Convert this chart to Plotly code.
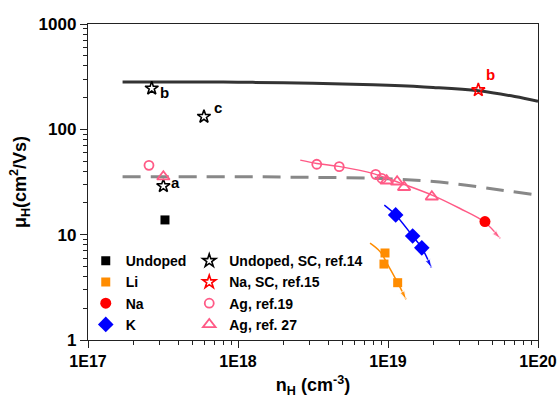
import numpy as np
import plotly.graph_objects as go

# ---------------- data ----------------
# model curves
solid_x = [1.7e17, 5e17, 1e18, 2e18, 5e18, 1e19, 2e19, 4e19, 7e19, 1e20]
solid_y = [282, 282, 280, 277, 270, 262, 250, 232, 205, 185]
dash_x = [1.7e17, 1e18, 3e18, 1e19, 2.6e19, 5.6e19, 1e20]
dash_y = [35.5, 35.5, 35, 34, 30.8, 26.5, 23.8]

# guide curves (with arrows)
ag_fit_x = [2.6e18, 3.35e18, 4.7e18, 8e18, 1.2e19, 2e19, 3e19, 4.4e19, 5.6e19]
ag_fit_y = [51, 47.5, 44.5, 38, 31, 23.5, 17.8, 13.2, 9.2]
k_fit_x = [9.45e18, 1.125e19, 1.46e19, 1.68e19, 1.95e19]
k_fit_y = [19.1, 15.4, 9.7, 7.5, 4.85]
li_fit_x = [7.59e18, 8.85e18, 1.0e19, 1.16e19, 1.32e19]
li_fit_y = [8.3, 6.9, 5.15, 3.5, 2.43]

# measured points
undoped_x = [3.26e17]
undoped_y = [13.8]
li_x = [9.55e18, 9.4e18, 1.16e19]
li_y = [6.7, 5.26, 3.5]
na_x = [4.43e19]
na_y = [13.3]
k_x = [1.125e19, 1.46e19, 1.68e19]
k_y = [15.4, 9.7, 7.5]

# literature
sc14_x = [2.66e17, 5.93e17, 3.18e17]
sc14_y = [245, 132, 29]
sc14_lab = ["b", "c", "a"]
sc15_x = [4.0e19]
sc15_y = [236]
sc15_lab = ["b"]
ag19_x = [2.55e17, 3.35e18, 4.73e18, 8.28e18, 9.08e18]
ag19_y = [45.5, 46.6, 44.2, 37.4, 34.3]
ag27_x = [3.18e17, 9.8e18, 1.15e19, 1.28e19, 1.96e19]
ag27_y = [35.5, 32.5, 31.8, 28.2, 22.9]

x_ticks = [1e17, 1e18, 1e19, 1e20]
x_tick_text = ["1E17", "1E18", "1E19", "1E20"]
y_ticks = [1, 10, 100, 1000]
y_tick_text = ["1", "10", "100", "1000"]
minor_digits = [2, 3, 4, 5, 6, 7, 8, 9]
x_minor = [d * 10.0 ** e for e in (17, 18, 19) for d in minor_digits]
y_minor = [d * 10.0 ** e for e in (0, 1, 2) for d in minor_digits]

# ---------------- styles ----------------
FONT = "Arial, Liberation Sans, sans-serif"
PINK = "#ff5a86"
ORANGE = "#ff8c00"
BLUE = "#0000ff"
RED = "#ff0000"

fig = go.Figure()

fig.add_trace(go.Scatter(x=solid_x, y=solid_y, mode="lines", line=dict(color="#333333", width=3, shape="spline"),
                         showlegend=False, hoverinfo="skip"))
fig.add_trace(go.Scatter(x=dash_x, y=dash_y, mode="lines",
                         line=dict(color="#888888", width=3, dash="18px,10px", shape="spline"),
                         showlegend=False, hoverinfo="skip"))


def arrow_line(xs, ys, color):
    sizes = [0] * (len(xs) - 1) + [9]
    fig.add_trace(go.Scatter(x=xs, y=ys, mode="lines+markers",
                             line=dict(color=color, width=1.5, shape="spline"),
                             marker=dict(symbol="arrow", size=sizes, color=color, angleref="previous"),
                             showlegend=False, hoverinfo="skip"))


arrow_line(ag_fit_x, ag_fit_y, PINK)
arrow_line(k_fit_x, k_fit_y, BLUE)
arrow_line(li_fit_x, li_fit_y, ORANGE)

# legend 1 (measured)
fig.add_trace(go.Scatter(x=undoped_x, y=undoped_y, mode="markers", name="Undoped", legend="legend",
                         marker=dict(symbol="square", size=9, color="black")))
fig.add_trace(go.Scatter(x=li_x, y=li_y, mode="markers", name="Li", legend="legend",
                         marker=dict(symbol="square", size=9, color=ORANGE)))
fig.add_trace(go.Scatter(x=na_x, y=na_y, mode="markers", name="Na", legend="legend",
                         marker=dict(symbol="circle", size=11, color=RED)))
fig.add_trace(go.Scatter(x=k_x, y=k_y, mode="markers", name="K", legend="legend",
                         marker=dict(symbol="diamond", size=12, color=BLUE)))

# legend 2 (literature)
fig.add_trace(go.Scatter(x=sc14_x, y=sc14_y, mode="markers", name="Undoped, SC, ref.14", legend="legend2",
                         marker=dict(symbol="star-open", size=10, color="black", line=dict(width=1.6))))
fig.add_trace(go.Scatter(x=sc15_x, y=sc15_y, mode="markers", name="Na, SC, ref.15", legend="legend2",
                         marker=dict(symbol="star-open", size=10, color=RED, line=dict(width=1.6))))
fig.add_trace(go.Scatter(x=ag19_x, y=ag19_y, mode="markers", name="Ag, ref.19", legend="legend2",
                         marker=dict(symbol="circle-open", size=9, color=PINK, line=dict(width=1.8))))
fig.add_trace(go.Scatter(x=ag27_x, y=ag27_y, mode="markers", name="Ag, ref. 27", legend="legend2",
                         marker=dict(symbol="triangle-up-open", size=11, color=PINK, line=dict(width=1.8))))

# point labels
shifts = [(13, -4), (14, 9), (12, 3)]
for xv, yv, lab, (dx, dy) in zip(sc14_x, sc14_y, sc14_lab, shifts):
    fig.add_annotation(x=np.log10(xv), y=np.log10(yv), text=lab, showarrow=False, xshift=dx, yshift=dy,
                       font=dict(family=FONT, size=15, color="black", weight="bold"))
for xv, yv, lab in zip(sc15_x, sc15_y, sc15_lab):
    fig.add_annotation(x=np.log10(xv), y=np.log10(yv), text=lab, showarrow=False, xshift=12, yshift=16,
                       font=dict(family=FONT, size=15, color=RED, weight="bold"))

axis_common = dict(type="log", showgrid=False, zeroline=False, showline=True, linecolor="#222222",
                   linewidth=1.3, mirror=True, ticks="outside", ticklen=7, tickwidth=1.3, tickcolor="#222222",
                   automargin=False)

fig.update_xaxes(**axis_common, range=[17, 20], tickmode="array", tickvals=x_ticks, ticktext=x_tick_text,
                 tickfont=dict(family=FONT, size=16, color="black", weight="bold"),
                 minor=dict(tickmode="array", tickvals=x_minor, ticks="outside", ticklen=4, tickwidth=1,
                            tickcolor="#222222", showgrid=False),
                 title=dict(text="n<sub>H</sub> (cm<sup>-3</sup>)", standoff=9,
                            font=dict(family=FONT, size=18, color="black", weight="bold")))
fig.update_yaxes(**axis_common, range=[0, 3], tickmode="array", tickvals=y_ticks, ticktext=y_tick_text,
                 tickfont=dict(family=FONT, size=17, color="black", weight="bold"),
                 minor=dict(tickmode="array", tickvals=y_minor, ticks="outside", ticklen=4, tickwidth=1,
                            tickcolor="#222222", showgrid=False),
                 title=dict(text="μ<sub>H</sub>(cm<sup>2</sup>/Vs)", standoff=7,
                            font=dict(family=FONT, size=18, color="black", weight="bold")))

legend_font = dict(family=FONT, size=14, color="black", weight="bold")
fig.update_layout(
    width=560, height=401,
    margin=dict(l=88, r=22, t=24, b=61, autoexpand=False),
    paper_bgcolor="white", plot_bgcolor="white",
    legend=dict(x=-0.005, y=0.30, xanchor="left", yanchor="top", bgcolor="rgba(0,0,0,0)",
                font=legend_font, tracegroupgap=0, itemwidth=30),
    legend2=dict(x=0.225, y=0.30, xanchor="left", yanchor="top", bgcolor="rgba(0,0,0,0)",
                 font=legend_font, tracegroupgap=0, itemwidth=30),
)

# remove the default page margin so the 560x401 figure fills the window exactly
fig.write_html("out.html", config={"displayModeBar": False},
               post_script="document.body.style.margin='0';document.body.style.overflow='hidden';")
